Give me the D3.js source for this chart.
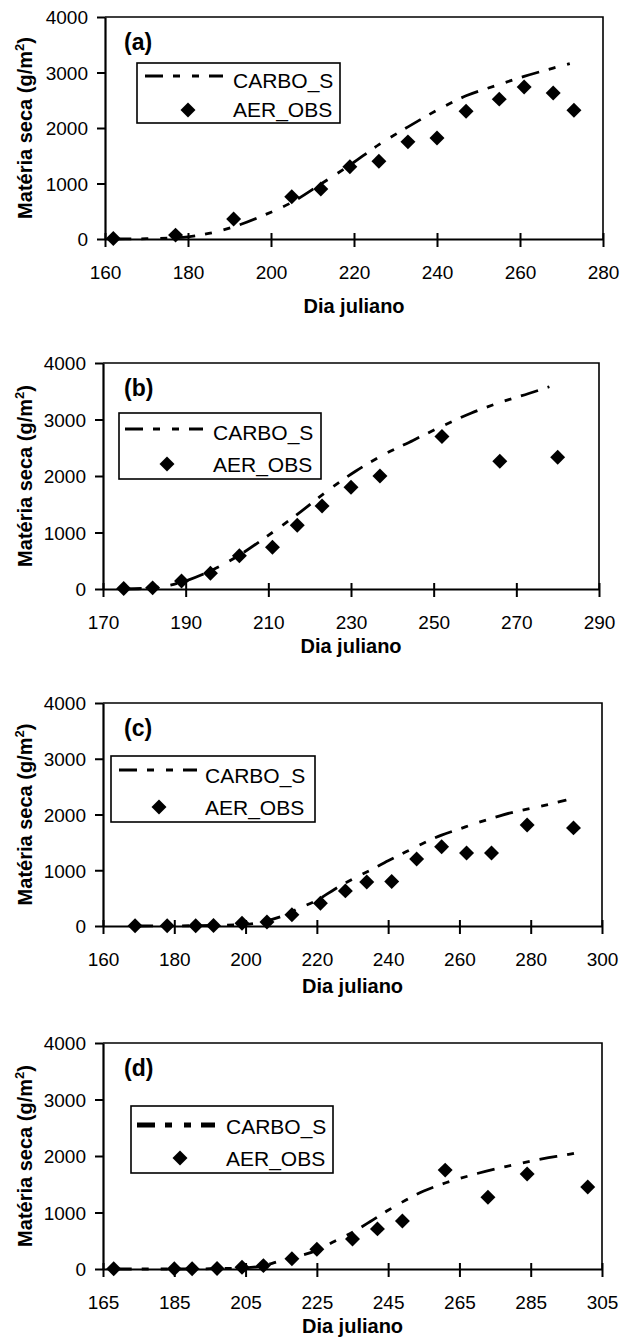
<!DOCTYPE html>
<html>
<head>
<meta charset="utf-8">
<script src="https://cdn.jsdelivr.net/npm/d3@7"></script>
<style>
    body { margin: 0; background: #fff; }
    text { font-family: "Liberation Sans", Arial, sans-serif; fill: #000; }
</style>
</head>
<body>
<div id="chart"></div>
<script>
// observed (AER_OBS) and simulated (CARBO_S) dry matter, g/m2, by julian day
var obsDaysA = [162, 177, 191, 205, 212, 219, 226, 233, 240, 247, 255, 261, 268, 273];
var obsValsA = [10, 70, 360, 760, 900, 1300, 1400, 1750, 1820, 2300, 2520, 2740, 2630, 2320];
var simDaysA = [162, 170, 180, 185, 191, 198, 205, 212, 219, 226, 233, 240, 247, 254, 261, 268, 272];
var simValsA = [0, 5, 40, 100, 220, 420, 660, 990, 1330, 1700, 2020, 2320, 2580, 2760, 2930, 3080, 3160];

var obsDaysB = [175, 182, 189, 196, 203, 211, 217, 223, 230, 237, 252, 266, 280];
var obsValsB = [10, 20, 140, 280, 590, 740, 1130, 1470, 1800, 2000, 2700, 2260, 2330];
var simDaysB = [175, 182, 189, 196, 203, 210, 217, 224, 231, 238, 245, 252, 259, 266, 273, 278];
var simValsB = [0, 20, 120, 320, 600, 950, 1320, 1720, 2080, 2380, 2630, 2880, 3110, 3300, 3460, 3580];

var obsDaysC = [169, 178, 186, 191, 199, 206, 213, 221, 228, 234, 241, 248, 255, 262, 269, 279, 292];
var obsValsC = [5, 5, 5, 10, 50, 70, 200, 410, 630, 790, 800, 1200, 1420, 1310, 1310, 1810, 1760];
var simDaysC = [169, 180, 190, 200, 205, 210, 215, 220, 225, 230, 235, 240, 245, 250, 255, 260, 265, 270, 275, 280, 285, 290];
var simValsC = [0, 2, 10, 30, 80, 170, 320, 460, 660, 840, 1000, 1170, 1330, 1490, 1630, 1740, 1850, 1950, 2040, 2110, 2180, 2260];

var obsDaysD = [168, 185, 190, 197, 204, 210, 218, 225, 235, 242, 249, 261, 273, 284, 301];
var obsValsD = [5, 5, 5, 10, 30, 60, 180, 350, 530, 710, 850, 1750, 1270, 1680, 1450];
var simDaysD = [168, 185, 195, 205, 210, 215, 220, 225, 230, 235, 240, 245, 250, 255, 260, 265, 270, 275, 280, 285, 290, 295, 298];
var simValsD = [0, 0, 5, 20, 60, 150, 230, 330, 490, 650, 840, 1040, 1220, 1380, 1500, 1600, 1690, 1770, 1840, 1910, 1970, 2020, 2060];

var xTicksA = [160, 180, 200, 220, 240, 260, 280];
var xTicksB = [170, 190, 210, 230, 250, 270, 290];
var xTicksC = [160, 180, 200, 220, 240, 260, 280, 300];
var xTicksD = [165, 185, 205, 225, 245, 265, 285, 305];
var yTicks = [0, 1000, 2000, 3000, 4000];

var panelLabels = ["(a)", "(b)", "(c)", "(d)"];
var seriesNames = ["CARBO_S", "AER_OBS"];

const W = 621, H = 1340;
const svg = d3.select("#chart").append("svg")
    .attr("width", W).attr("height", H)
    .style("background", "#fff");

// pixel boxes of each panel and legend placement
var panels = [
    { left: 105, right: 603, top: 17, bottom: 239, titleDy: 74, leg: { x: 137, y: 63, w: 203, h: 60, l1: 13, d2: 47, t1: 25, t2: 54, lx: 145, dx: 188, tx: 233, lw: 3 } },
    { left: 103, right: 599, top: 363, bottom: 589, titleDy: 64, leg: { x: 119, y: 413, w: 202, h: 66, l1: 16, d2: 51, t1: 27, t2: 59, lx: 125, dx: 167, tx: 213, lw: 3 } },
    { left: 103, right: 602, top: 703, bottom: 926, titleDy: 67, leg: { x: 111, y: 756, w: 204, h: 66, l1: 14, d2: 51, t1: 27, t2: 59, lx: 119, dx: 159, tx: 205, lw: 3 } },
    { left: 103, right: 602, top: 1043, bottom: 1269, titleDy: 64, leg: { x: 131, y: 1106, w: 202, h: 67, l1: 19, d2: 52, t1: 28, t2: 60, lx: 137, dx: 180, tx: 226, lw: 5 } }
];

var data = [
    { obsD: obsDaysA, obsV: obsValsA, simD: simDaysA, simV: simValsA, ticks: xTicksA },
    { obsD: obsDaysB, obsV: obsValsB, simD: simDaysB, simV: simValsB, ticks: xTicksB },
    { obsD: obsDaysC, obsV: obsValsC, simD: simDaysC, simV: simValsC, ticks: xTicksC },
    { obsD: obsDaysD, obsV: obsValsD, simD: simDaysD, simV: simValsD, ticks: xTicksD }
];

const dashPattern = "18,10,7,12,7,10";
const diamond = d3.symbol().type(d3.symbolSquare).size(112);

data.forEach((d, i) => {
    const p = panels[i];
    const x = d3.scaleLinear()
        .domain([d.ticks[0], d.ticks[d.ticks.length - 1]])
        .range([p.left, p.right]);
    const y = d3.scaleLinear()
        .domain([0, 4000])
        .range([p.bottom, p.top]);

    const g = svg.append("g");

    // top + right frame
    g.append("path")
        .attr("d", `M${p.left},${p.top}H${p.right}V${p.bottom}`)
        .attr("fill", "none").attr("stroke", "#000").attr("stroke-width", 1.6);

    // y axis
    const yAxis = g.append("g")
        .attr("transform", `translate(${p.left},0)`)
        .call(d3.axisLeft(y).tickValues(yTicks).tickFormat(d3.format("d")).tickSize(8).tickSizeOuter(0));
    yAxis.select(".domain").attr("stroke-width", 2.2);
    yAxis.selectAll(".tick line").attr("stroke-width", 2);
    yAxis.selectAll("text")
        .attr("x", -17).attr("dy", "0.36em")
        .style("font-size", "19px").style("font-family", "Liberation Sans, Arial, sans-serif");

    // x axis, ticks cross the axis line
    const xAxis = g.append("g")
        .attr("transform", `translate(0,${p.bottom})`)
        .call(d3.axisBottom(x).tickValues(d.ticks).tickFormat(d3.format("d")).tickSize(8).tickSizeOuter(0));
    xAxis.select(".domain").attr("stroke-width", 2.2);
    xAxis.selectAll(".tick line").attr("y1", -6).attr("stroke-width", 2);
    xAxis.selectAll("text")
        .attr("y", 40).attr("dy", null)
        .style("font-size", "19px").style("font-family", "Liberation Sans, Arial, sans-serif");

    // titles
    g.append("text")
        .attr("x", (p.left + p.right) / 2)
        .attr("y", p.bottom + p.titleDy)
        .attr("text-anchor", "middle")
        .style("font-size", "20px").style("font-weight", "bold")
        .text("Dia juliano");

    const yt = g.append("text")
        .attr("transform", `translate(32,${(p.top + p.bottom) / 2}) rotate(-90)`)
        .attr("text-anchor", "middle")
        .style("font-size", "20px").style("font-weight", "bold");
    yt.append("tspan").text("Matéria seca (g/m");
    yt.append("tspan").attr("dy", -8).style("font-size", "13px").text("2");
    yt.append("tspan").attr("dy", 8).text(")");

    g.append("text")
        .attr("x", 124).attr("y", p.top + 33)
        .style("font-size", "23px").style("font-weight", "bold")
        .text(panelLabels[i]);

    // simulated line
    const sim = d.simD.map((v, k) => [v, d.simV[k]]);
    const simLine = d3.line()
        .x(e => x(e[0]))
        .y(e => y(e[1]))
        .curve(d3.curveMonotoneX);
    g.append("path")
        .datum(sim)
        .attr("d", simLine)
        .attr("fill", "none")
        .attr("stroke", "#000").attr("stroke-width", 2.8)
        .attr("stroke-dasharray", dashPattern);

    // observed diamonds
    const obs = d.obsD.map((v, k) => [v, d.obsV[k]]);
    g.selectAll(".obs").data(obs).enter().append("path")
        .attr("class", "obs")
        .attr("d", diamond)
        .attr("transform", e => `translate(${x(e[0])},${y(e[1])}) rotate(45)`)
        .attr("fill", "#000");

    // legend
    const L = p.leg;
    const lg = g.append("g");
    lg.append("rect")
        .attr("x", L.x).attr("y", L.y).attr("width", L.w).attr("height", L.h)
        .attr("fill", "#fff").attr("stroke", "#000").attr("stroke-width", 1.6);
    lg.append("line")
        .attr("x1", L.lx).attr("x2", L.lx + 78)
        .attr("y1", L.y + L.l1).attr("y2", L.y + L.l1)
        .attr("stroke", "#000").attr("stroke-width", L.lw)
        .attr("stroke-dasharray", dashPattern);
    lg.append("path")
        .attr("d", diamond)
        .attr("transform", `translate(${L.dx},${L.y + L.d2}) rotate(45)`)
        .attr("fill", "#000");
    lg.append("text")
        .attr("x", L.tx).attr("y", L.y + L.t1)
        .style("font-size", "21px")
        .text(seriesNames[0]);
    lg.append("text")
        .attr("x", L.tx).attr("y", L.y + L.t2)
        .style("font-size", "21px")
        .text(seriesNames[1]);
});
</script>
</body>
</html>
